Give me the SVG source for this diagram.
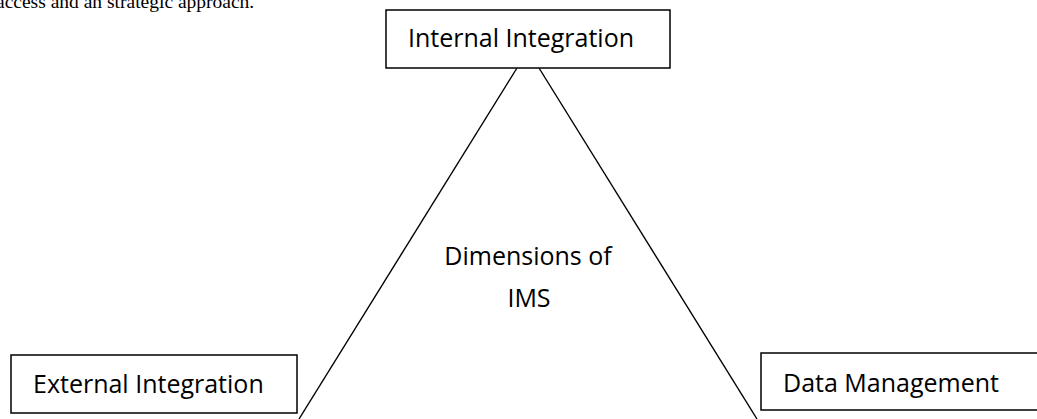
<svg xmlns="http://www.w3.org/2000/svg" width="1037" height="419" viewBox="0 0 1037 419">
<style>
.box{fill:#fff;stroke:#000;stroke-width:1.5}
.lbl{font-family:"Open Sans","Noto Sans","Liberation Sans",sans-serif;font-size:25px;fill:#000}
.conn{stroke:#000;stroke-width:1.4;fill:none}
.body{font-family:"Liberation Serif",serif;font-size:19.5px;fill:#000}
</style>
<rect width="1037" height="419" fill="#fff"/>
<text class="body" x="-4" y="8">access and an strategic approach.</text>
<g id="connectors">
<line class="conn" x1="517" y1="68" x2="299" y2="419"/>
<line class="conn" x1="539" y1="68" x2="757" y2="419"/>
</g>
<g id="internal">
<rect class="box" x="386" y="10" width="284" height="58"/>
<text class="lbl" x="408" y="47">Internal Integration</text>
</g>
<g id="external">
<rect class="box" x="11" y="355" width="286" height="58"/>
<text class="lbl" x="33" y="393">External Integration</text>
</g>
<g id="data">
<rect class="box" x="761" y="353" width="290" height="57"/>
<text class="lbl" x="783" y="392">Data Management</text>
</g>
<g id="center">
<text class="lbl" x="528" y="265" text-anchor="middle">Dimensions of</text>
<text class="lbl" x="529" y="307" text-anchor="middle">IMS</text>
</g>
</svg>
